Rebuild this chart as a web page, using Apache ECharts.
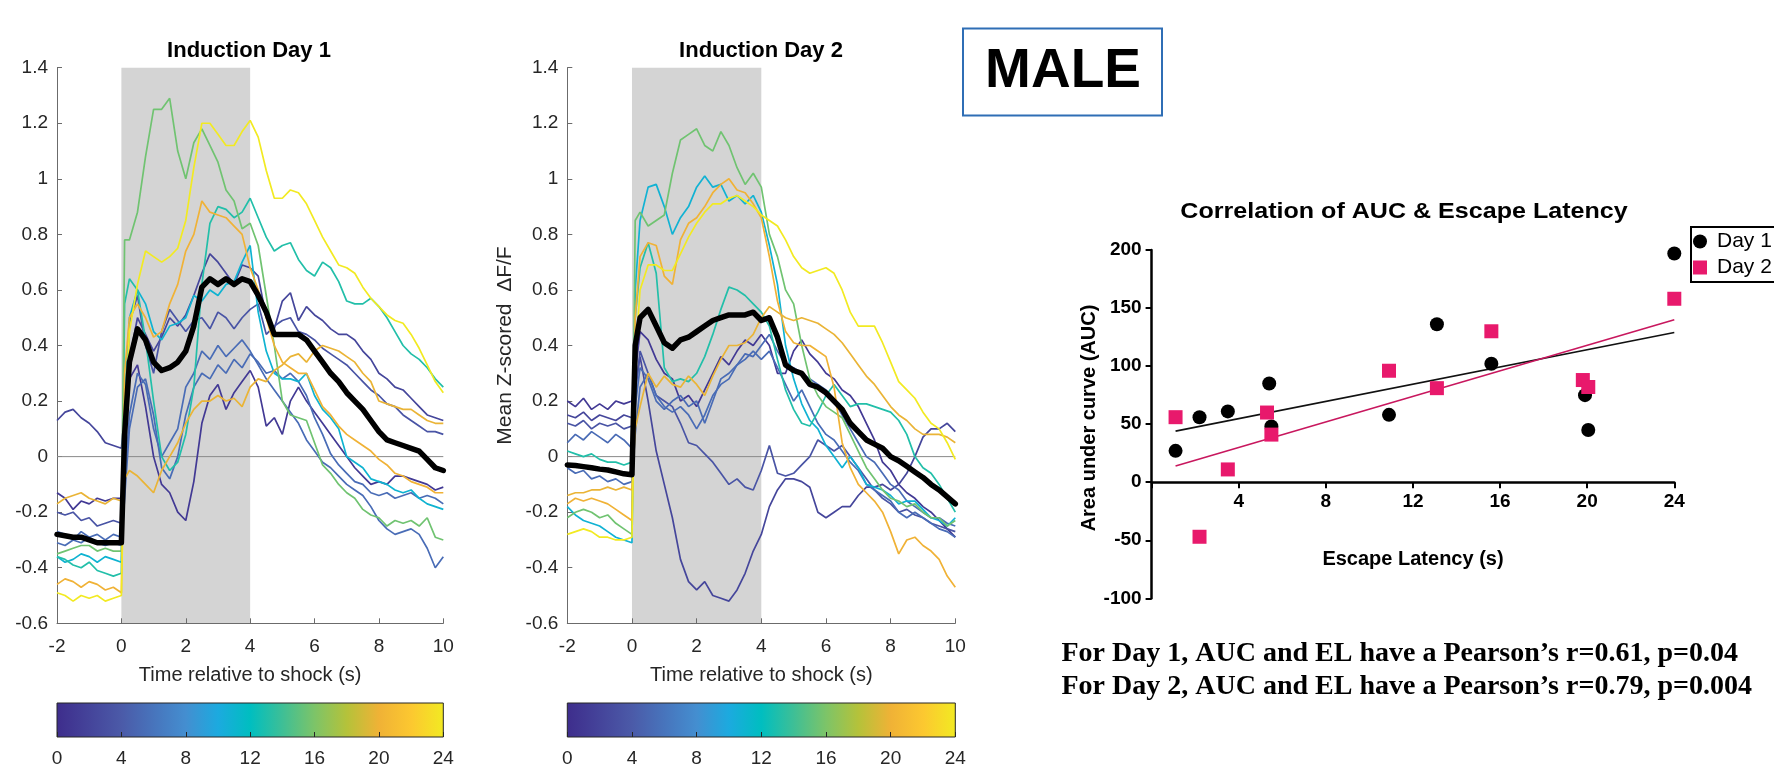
<!DOCTYPE html>
<html>
<head>
<meta charset="utf-8">
<script src="https://cdn.jsdelivr.net/npm/echarts@6/dist/echarts.min.js"></script>
<style>html,body{margin:0;padding:0;background:#fff}#c{width:1774px;height:769px}</style>
</head>
<body>
<div id="c"></div>
<script>
// ---------- DATA ----------
const TIME = [-2,-1.75,-1.5,-1.25,-1,-0.75,-0.5,-0.25,0,0.1,0.25,0.5,0.75,1,1.25,1.5,1.75,2,2.25,2.5,2.75,3,3.25,3.5,3.75,4,4.25,4.5,4.75,5,5.25,5.5,5.75,6,6.25,6.5,6.75,7,7.25,7.5,7.75,8,8.25,8.5,8.75,9,9.25,9.5,9.75,10];

// Induction Day 1 traces (one per mouse, colored by escape latency)
const D1_LAT = [1.1, 2.2, 3.5, 5.4, 5.4, 10.9, 13.1, 15.6, 19.8, 20.0, 24];
const D1_A = [-0.13,-0.15,-0.19,-0.16,-0.17,-0.15,-0.16,-0.15,-0.15,0.02,0.28,0.33,0.18,0.0,-0.1,-0.13,-0.2,-0.23,-0.09,0.12,0.22,0.26,0.17,0.23,0.27,0.31,0.25,0.11,0.14,0.08,0.2,0.25,0.2,0.16,0.12,0.08,0.04,0.0,-0.04,-0.07,-0.1,-0.09,-0.1,-0.07,-0.07,-0.08,-0.09,-0.1,-0.12,-0.11];
const D1_B = [0.13,0.16,0.17,0.14,0.12,0.09,0.05,0.04,0.03,0.15,0.35,0.5,0.44,0.38,0.43,0.5,0.47,0.51,0.58,0.66,0.73,0.7,0.66,0.62,0.69,0.68,0.65,0.5,0.46,0.56,0.59,0.49,0.54,0.51,0.49,0.46,0.44,0.44,0.42,0.38,0.35,0.3,0.28,0.25,0.24,0.21,0.18,0.15,0.14,0.13];
const D1_C = [-0.2,-0.21,-0.2,-0.23,-0.22,-0.25,-0.24,-0.23,-0.24,0.05,0.48,0.58,0.4,0.3,0.45,0.53,0.49,0.45,0.49,0.5,0.46,0.52,0.5,0.46,0.5,0.53,0.55,0.44,0.47,0.49,0.5,0.45,0.44,0.42,0.39,0.37,0.35,0.33,0.3,0.27,0.24,0.22,0.19,0.18,0.15,0.13,0.11,0.09,0.09,0.08];
const D1_D = [-0.27,-0.28,-0.3,-0.27,-0.29,-0.28,-0.3,-0.28,-0.29,-0.1,0.15,0.3,0.26,0.1,0.0,0.05,0.1,0.25,0.3,0.38,0.35,0.4,0.36,0.39,0.42,0.38,0.33,0.28,0.24,0.2,0.16,0.12,0.06,0.02,-0.02,-0.04,-0.07,-0.1,-0.12,-0.14,-0.18,-0.23,-0.26,-0.28,-0.27,-0.26,-0.28,-0.33,-0.4,-0.36];
const D1_E = [-0.31,-0.32,-0.3,-0.31,-0.29,-0.31,-0.32,-0.31,-0.32,-0.15,0.1,0.25,0.28,0.15,-0.04,-0.08,0.0,0.15,0.25,0.3,0.28,0.33,0.3,0.35,0.32,0.37,0.34,0.3,0.31,0.28,0.3,0.27,0.22,0.14,0.08,0.01,-0.03,-0.06,-0.09,-0.1,-0.13,-0.14,-0.13,-0.15,-0.14,-0.13,-0.15,-0.14,-0.15,-0.17];
const D1_F = [-0.36,-0.38,-0.37,-0.35,-0.36,-0.38,-0.36,-0.37,-0.38,0.2,0.5,0.6,0.55,0.45,0.42,0.47,0.48,0.5,0.58,0.56,0.6,0.58,0.62,0.63,0.7,0.76,0.52,0.38,0.3,0.28,0.28,0.27,0.3,0.22,0.17,0.14,0.1,0.0,-0.02,-0.04,-0.08,-0.09,-0.1,-0.12,-0.13,-0.12,-0.15,-0.17,-0.18,-0.19];
const D1_G = [-0.36,-0.37,-0.39,-0.4,-0.38,-0.41,-0.42,-0.43,-0.42,0.55,0.64,0.6,0.42,0.2,0.0,-0.05,-0.02,0.08,0.25,0.62,0.84,0.9,0.89,0.86,0.88,0.93,0.86,0.79,0.74,0.76,0.77,0.71,0.67,0.65,0.7,0.68,0.63,0.56,0.55,0.55,0.57,0.54,0.5,0.45,0.4,0.37,0.35,0.32,0.28,0.25];
const D1_H = [-0.35,-0.34,-0.33,-0.32,-0.32,-0.34,-0.33,-0.34,-0.34,0.78,0.78,0.88,1.08,1.25,1.25,1.29,1.1,1.0,1.13,1.18,1.12,1.06,0.96,0.92,0.82,0.84,0.76,0.58,0.4,0.2,0.15,0.14,0.13,0.05,-0.03,-0.06,-0.1,-0.13,-0.15,-0.19,-0.21,-0.22,-0.25,-0.23,-0.24,-0.23,-0.25,-0.22,-0.29,-0.3];
const D1_I = [-0.17,-0.15,-0.14,-0.13,-0.15,-0.16,-0.17,-0.15,-0.16,-0.08,-0.05,-0.07,-0.1,-0.13,-0.05,0.0,0.05,0.12,0.17,0.2,0.2,0.22,0.2,0.21,0.18,0.25,0.28,0.27,0.31,0.33,0.36,0.37,0.34,0.38,0.4,0.39,0.38,0.36,0.34,0.3,0.27,0.2,0.19,0.18,0.17,0.17,0.15,0.13,0.12,0.12];
const D1_J = [-0.46,-0.44,-0.45,-0.47,-0.45,-0.46,-0.48,-0.47,-0.49,0.3,0.5,0.55,0.5,0.43,0.45,0.55,0.62,0.74,0.8,0.92,0.88,0.87,0.86,0.83,0.8,0.68,0.6,0.5,0.4,0.34,0.32,0.3,0.3,0.24,0.18,0.15,0.11,0.08,0.06,0.04,0.02,-0.01,-0.03,-0.06,-0.07,-0.09,-0.1,-0.11,-0.13,-0.13];
const D1_K = [-0.49,-0.5,-0.52,-0.5,-0.51,-0.5,-0.52,-0.51,-0.5,0.1,0.45,0.62,0.74,0.72,0.7,0.72,0.75,0.85,1.04,1.2,1.2,1.16,1.12,1.12,1.17,1.21,1.15,1.03,0.93,0.93,0.96,0.95,0.91,0.85,0.79,0.74,0.69,0.68,0.66,0.61,0.57,0.54,0.51,0.49,0.48,0.44,0.39,0.33,0.27,0.23];
const D1_MEAN = [-0.28,-0.285,-0.29,-0.29,-0.3,-0.31,-0.31,-0.31,-0.31,0.08,0.34,0.46,0.42,0.34,0.31,0.32,0.34,0.38,0.47,0.61,0.64,0.62,0.64,0.62,0.64,0.63,0.58,0.52,0.44,0.44,0.44,0.44,0.42,0.38,0.34,0.3,0.27,0.23,0.2,0.17,0.13,0.09,0.06,0.05,0.04,0.03,0.02,-0.01,-0.04,-0.05];

// Induction Day 2 traces
const D2_LAT = [1.1, 2.2, 3.5, 5.3, 5.4, 10.8, 13.1, 15.6, 19.8, 20.0, 24];
const D2_A = [0.2,0.18,0.21,0.17,0.19,0.17,0.2,0.19,0.2,0.3,0.45,0.42,0.35,0.3,0.28,0.2,0.22,0.18,0.24,0.3,0.36,0.33,0.38,0.42,0.4,0.44,0.4,0.3,0.3,0.38,0.42,0.37,0.34,0.3,0.28,0.24,0.22,0.18,0.12,0.06,-0.02,-0.05,-0.1,-0.13,-0.15,-0.18,-0.2,-0.23,-0.26,-0.29];
const D2_B = [0.15,0.14,0.16,0.13,0.15,0.14,0.13,0.15,0.14,0.25,0.36,0.2,0.02,-0.1,-0.22,-0.37,-0.45,-0.48,-0.45,-0.5,-0.51,-0.52,-0.48,-0.42,-0.34,-0.28,-0.18,-0.12,-0.08,-0.08,-0.09,-0.11,-0.2,-0.22,-0.2,-0.18,-0.18,-0.14,-0.11,-0.11,-0.1,-0.12,-0.1,-0.06,0.0,0.07,0.1,0.1,0.12,0.09];
const D2_C = [0.12,0.11,0.13,0.1,0.12,0.11,0.12,0.1,0.11,0.22,0.38,0.3,0.22,0.2,0.18,0.12,0.05,0.04,0.01,-0.02,-0.06,-0.1,-0.08,-0.11,-0.12,-0.05,0.04,-0.06,-0.07,-0.06,-0.03,0.0,0.06,0.04,0.02,0.04,0.0,-0.04,-0.08,-0.12,-0.15,-0.17,-0.2,-0.19,-0.21,-0.22,-0.24,-0.25,-0.26,-0.27];
const D2_D = [0.05,0.08,0.06,0.09,0.07,0.05,0.08,0.06,0.03,0.18,0.32,0.28,0.2,0.17,0.2,0.22,0.18,0.2,0.12,0.2,0.28,0.3,0.33,0.37,0.36,0.4,0.44,0.38,0.33,0.32,0.3,0.28,0.26,0.24,0.2,0.15,0.1,0.05,0.0,-0.02,-0.06,-0.1,-0.12,-0.16,-0.18,-0.2,-0.22,-0.22,-0.24,-0.25];
const D2_E = [-0.04,-0.06,-0.05,-0.08,-0.07,-0.09,-0.08,-0.1,-0.09,0.08,0.25,0.3,0.22,0.18,0.16,0.18,0.15,0.1,0.15,0.22,0.26,0.28,0.33,0.35,0.38,0.35,0.38,0.32,0.26,0.2,0.24,0.18,0.12,0.08,0.06,0.02,-0.02,-0.05,-0.1,-0.12,-0.14,-0.16,-0.2,-0.22,-0.2,-0.22,-0.24,-0.26,-0.27,-0.29];
const D2_F = [-0.18,-0.21,-0.23,-0.24,-0.25,-0.27,-0.29,-0.3,-0.31,0.6,0.85,0.97,0.98,0.9,0.8,0.86,0.9,0.97,1.01,0.97,0.98,0.92,0.94,0.91,0.94,0.88,0.76,0.62,0.4,0.28,0.19,0.13,0.1,0.04,0.0,-0.04,0.0,-0.04,-0.1,-0.11,-0.12,-0.14,-0.17,-0.16,-0.16,-0.19,-0.22,-0.23,-0.25,-0.22];
const D2_G = [0.02,0.01,0.0,0.01,-0.01,-0.02,-0.02,-0.03,-0.02,0.5,0.68,0.77,0.66,0.32,0.27,0.28,0.27,0.3,0.36,0.44,0.53,0.61,0.6,0.58,0.55,0.52,0.47,0.35,0.24,0.17,0.12,0.11,0.16,0.22,0.26,0.22,0.18,0.19,0.19,0.18,0.17,0.16,0.13,0.08,0.0,-0.04,-0.06,-0.1,-0.15,-0.2];
const D2_H = [-0.22,-0.2,-0.19,-0.2,-0.22,-0.21,-0.24,-0.26,-0.28,0.85,0.88,0.83,0.85,0.87,1.02,1.14,1.16,1.18,1.12,1.1,1.17,1.12,1.04,0.98,1.02,0.97,0.8,0.72,0.6,0.55,0.4,0.28,0.22,0.18,0.16,0.14,0.08,0.02,-0.04,-0.08,-0.12,-0.15,-0.16,-0.18,-0.17,-0.2,-0.22,-0.22,-0.25,-0.23];
const D2_I = [-0.14,-0.13,-0.13,-0.12,-0.12,-0.11,-0.12,-0.11,-0.12,0.1,0.18,0.3,0.25,0.29,0.26,0.25,0.29,0.26,0.22,0.29,0.35,0.4,0.4,0.41,0.44,0.5,0.54,0.52,0.5,0.49,0.5,0.49,0.48,0.46,0.44,0.41,0.37,0.33,0.29,0.26,0.22,0.18,0.15,0.13,0.1,0.08,0.08,0.08,0.07,0.05];
const D2_J = [-0.17,-0.15,-0.16,-0.15,-0.16,-0.17,-0.19,-0.21,-0.23,0.5,0.72,0.77,0.76,0.65,0.62,0.78,0.84,0.86,0.9,0.95,0.98,1.0,0.96,0.95,0.91,0.86,0.72,0.56,0.45,0.41,0.4,0.4,0.38,0.36,0.25,0.05,-0.04,-0.1,-0.13,-0.16,-0.2,-0.27,-0.35,-0.3,-0.29,-0.32,-0.34,-0.37,-0.43,-0.47];
const D2_K = [-0.28,-0.27,-0.26,-0.27,-0.29,-0.29,-0.3,-0.3,-0.29,0.35,0.6,0.69,0.69,0.67,0.67,0.73,0.79,0.84,0.88,0.91,0.91,0.93,0.94,0.92,0.9,0.87,0.85,0.83,0.78,0.72,0.68,0.66,0.67,0.68,0.66,0.6,0.52,0.47,0.47,0.47,0.41,0.34,0.27,0.24,0.21,0.16,0.12,0.1,0.05,-0.01];
const D2_MEAN = [-0.03,-0.032,-0.036,-0.04,-0.045,-0.048,-0.055,-0.062,-0.065,0.4,0.5,0.53,0.47,0.41,0.39,0.42,0.43,0.45,0.47,0.49,0.5,0.51,0.51,0.51,0.52,0.49,0.5,0.43,0.33,0.31,0.3,0.26,0.25,0.23,0.2,0.17,0.12,0.09,0.06,0.045,0.03,0.0,-0.015,-0.035,-0.055,-0.075,-0.1,-0.12,-0.145,-0.17];

// Correlation scatter
const EL_DAY1  = [1.1, 2.2, 3.5, 5.4, 5.5, 10.9, 13.1, 15.6, 19.9, 20.05, 24];
const AUC_DAY1 = [27, 56, 61, 85, 48, 58, 136, 102, 75, 45, 197];
const EL_DAY2  = [1.1, 2.2, 3.5, 5.3, 5.5, 10.9, 13.1, 15.6, 19.8, 20.05, 24];
const AUC_DAY2 = [56, -47, 11, 60, 41, 96, 81, 130, 88, 82, 158];
const FIT_X    = [1.1, 24];
const FIT_DAY1 = [44, 129];
const FIT_DAY2 = [14, 140];

const CBAR_TICKS = [0, 4, 8, 12, 16, 20, 24];

// ---------- STYLE ----------
const FONT = '"Liberation Sans", Arial, Helvetica, sans-serif';
const SERIF = '"Liberation Serif", "Times New Roman", serif';
const CMAP = [[0,[62,45,140]],[4,[75,90,168]],[8,[68,142,208]],[10,[28,170,223]],[12,[0,190,192]],[14,[62,191,150]],[16,[125,196,104]],[18,[181,194,58]],[20,[240,178,54]],[22,[252,200,48]],[24,[242,234,34]]];
function cmapColor(v){
  for (let i=0;i<CMAP.length-1;i++){
    const a=CMAP[i], b=CMAP[i+1];
    if (v<=b[0]){
      const f=(v-a[0])/(b[0]-a[0]);
      const c=a[1].map((x,k)=>Math.round(x+(b[1][k]-x)*f));
      return 'rgb('+c.join(',')+')';
    }
  }
  return 'rgb('+CMAP[CMAP.length-1][1].join(',')+')';
}
const gradient = new echarts.graphic.LinearGradient(0,0,1,0, CMAP.map(s=>({offset:s[0]/24, color:'rgb('+s[1].join(',')+')'})));

const AX = '#6b6b6b', TXT = '#262626';
function panelX(gi){
  return {gridIndex:gi, type:'value', min:-2, max:10, interval:2, z:2,
    axisLine:{show:true,onZero:false,lineStyle:{color:AX,width:1}},
    axisTick:{show:true,inside:true,length:5,lineStyle:{color:AX}},
    splitLine:{show:false},
    axisLabel:{color:TXT,fontSize:19,margin:14,fontFamily:FONT},
    name:'Time relative to shock (s)', nameLocation:'middle', nameGap:42,
    nameTextStyle:{color:TXT,fontSize:20,fontFamily:FONT}};
}
function panelY(gi, name){
  const o = {gridIndex:gi, type:'value', min:-0.6, max:1.4, interval:0.2, z:2,
    axisLine:{show:true,onZero:false,lineStyle:{color:AX,width:1}},
    axisTick:{show:true,inside:true,length:5,lineStyle:{color:AX}},
    splitLine:{show:false},
    axisLabel:{color:TXT,fontSize:19,margin:9,fontFamily:FONT}};
  if (name){ Object.assign(o,{name:name,nameLocation:'middle',nameGap:52,nameTextStyle:{color:TXT,fontSize:21,fontFamily:FONT}}); }
  return o;
}
function cbarX(gi){
  return {gridIndex:gi, type:'value', min:0, max:24, interval:4, z:10,
    axisLine:{show:false}, axisTick:{show:true,inside:true,length:5,lineStyle:{color:TXT}},
    splitLine:{show:false}, axisLabel:{color:TXT,fontSize:19,margin:12,fontFamily:FONT}};
}
function cbarY(gi){ return {gridIndex:gi, type:'value', min:0, max:1, show:false}; }

const series = [];
function addPanel(ai, traces, lats, mean){
  series.push({type:'line', xAxisIndex:ai, yAxisIndex:ai, data:[[-2,null]], symbol:'none', silent:true, z:1,
    markArea:{silent:true, itemStyle:{color:'#d4d4d4'}, data:[[{coord:[0,-0.6]},{coord:[4,1.4]}]]}});
  series.push({type:'line', xAxisIndex:ai, yAxisIndex:ai, data:[[-2,0],[10,0]], symbol:'none', silent:true, z:2,
    lineStyle:{color:'#8a8a8a',width:1}});
  traces.forEach((vals,k)=>{
    series.push({type:'line', xAxisIndex:ai, yAxisIndex:ai, symbol:'none', silent:true, z:3,
      data: TIME.map((t,i)=>[t, vals[i]]),
      lineStyle:{color:cmapColor(lats[k]), width:1.7}});
  });
  series.push({type:'line', xAxisIndex:ai, yAxisIndex:ai, symbol:'none', silent:true, z:4,
    data: TIME.map((t,i)=>[t, mean[i]]), lineStyle:{color:'#000', width:5.5, join:'round', cap:'round'}});
}
addPanel(0, [D1_A,D1_B,D1_C,D1_D,D1_E,D1_F,D1_G,D1_H,D1_I,D1_J,D1_K], D1_LAT, D1_MEAN);
addPanel(1, [D2_A,D2_B,D2_C,D2_D,D2_E,D2_F,D2_G,D2_H,D2_I,D2_J,D2_K], D2_LAT, D2_MEAN);

[2,3].forEach(ai=>{
  series.push({type:'line', xAxisIndex:ai, yAxisIndex:ai, data:[[0,0.5],[24,0.5]], symbol:'none', silent:true,
    lineStyle:{opacity:0, width:0}, z:1,
    markArea:{silent:true, itemStyle:{color:gradient, borderColor:TXT, borderWidth:1},
      data:[[{coord:[CBAR_TICKS[0],0]},{coord:[CBAR_TICKS[CBAR_TICKS.length-1],1]}]]}});
});

series.push({type:'line', xAxisIndex:4, yAxisIndex:4, symbol:'none', silent:true, z:3,
  data: FIT_X.map((x,i)=>[x, FIT_DAY1[i]]), lineStyle:{color:'#111', width:1.6}});
series.push({type:'line', xAxisIndex:4, yAxisIndex:4, symbol:'none', silent:true, z:3,
  data: FIT_X.map((x,i)=>[x, FIT_DAY2[i]]), lineStyle:{color:'#c8175e', width:1.6}});
series.push({type:'scatter', name:'Day 1', xAxisIndex:4, yAxisIndex:4, symbol:'circle', symbolSize:14, z:5,
  data: EL_DAY1.map((x,i)=>[x, AUC_DAY1[i]]), itemStyle:{color:'#000', opacity:1}});
series.push({type:'scatter', name:'Day 2', xAxisIndex:4, yAxisIndex:4, symbol:'rect', symbolSize:14, z:5,
  data: EL_DAY2.map((x,i)=>[x, AUC_DAY2[i]]), itemStyle:{color:'#e8196c', opacity:1}});

// scatter grid geometry (y = 0 sits 116.6 px above the bottom edge at y = -100)
const SC_TOP = 250, SC_H = 348.3;
const SC_ZERO_OFFSET = -SC_H * (100 / 300);

const option = {
  animation:false,
  backgroundColor:'#fff',
  textStyle:{fontFamily:FONT},
  grid:[
    {left:57, top:67.7, width:386.3, height:555.6, outerBoundsMode:'none'},
    {left:567.3, top:67.7, width:388, height:555.6, outerBoundsMode:'none'},
    {left:57, top:703, width:386.3, height:34, outerBoundsMode:'none'},
    {left:567.3, top:703, width:388, height:34, outerBoundsMode:'none'},
    {left:1151.6, top:SC_TOP, width:522.7, height:SC_H, outerBoundsMode:'none'}
  ],
  xAxis:[panelX(0), panelX(1), cbarX(2), cbarX(3),
    {gridIndex:4, type:'value', min:0, max:24, interval:4, position:'bottom', offset:SC_ZERO_OFFSET,
     axisLine:{show:true,onZero:false,lineStyle:{color:'#000',width:2.5}},
     axisTick:{show:true,inside:false,length:6,lineStyle:{color:'#000',width:2}},
     splitLine:{show:false},
     axisLabel:{color:'#000',fontSize:19,fontWeight:'bold',margin:10,fontFamily:FONT,formatter:v=>v===0?'':String(v)}}],
  yAxis:[panelY(0), panelY(1,'Mean Z-scored  \u0394F/F'), cbarY(2), cbarY(3),
    {gridIndex:4, type:'value', min:-100, max:200, interval:50,
     axisLine:{show:true,onZero:false,lineStyle:{color:'#000',width:2.5}},
     axisTick:{show:true,inside:false,length:6,lineStyle:{color:'#000',width:2}},
     splitLine:{show:false},
     axisLabel:{color:'#000',fontSize:19,fontWeight:'bold',margin:10,fontFamily:FONT}}],
  legend:{show:true, data:[{name:'Day 1',icon:'circle'},{name:'Day 2',icon:'rect'}],
    orient:'vertical', left:1690, top:229, itemWidth:14, itemHeight:14, itemGap:5,
    padding:[2,4,2,3], borderWidth:0, backgroundColor:'transparent',
    textStyle:{fontSize:21,color:'#000',fontFamily:FONT,padding:[0,0,0,5]}},
  series: series,
  graphic:[
    {type:'text', x:249, y:51, style:{text:'Induction Day 1', fontSize:22, fontWeight:'bold', fontFamily:FONT, fill:'#000', align:'center', verticalAlign:'middle'}},
    {type:'text', x:761, y:51, style:{text:'Induction Day 2', fontSize:22, fontWeight:'bold', fontFamily:FONT, fill:'#000', align:'center', verticalAlign:'middle'}},
    {type:'rect', shape:{x:963, y:28.5, width:199, height:87}, style:{fill:'#fff', stroke:'#2f6eb5', lineWidth:2}},
    {type:'text', x:1063, y:72, style:{text:'MALE', fontSize:55, fontWeight:'bold', fontFamily:FONT, fill:'#000', align:'center', verticalAlign:'middle'}},
    {type:'rect', z:-1, shape:{x:1691, y:227, width:200, height:55}, style:{fill:'#fff', stroke:'#000', lineWidth:2}},
    {type:'text', x:1404, y:212, scaleX:1.14, style:{text:'Correlation of AUC & Escape Latency', fontSize:22, fontWeight:'bold', fontFamily:FONT, fill:'#000', align:'center', verticalAlign:'middle'}},
    {type:'text', x:1413, y:559, style:{text:'Escape Latency (s)', fontSize:20, fontWeight:'bold', fontFamily:FONT, fill:'#000', align:'center', verticalAlign:'middle'}},
    {type:'text', x:1089, y:418, rotation:Math.PI/2, style:{text:'Area under curve (AUC)', fontSize:20, fontWeight:'bold', fontFamily:FONT, fill:'#000', align:'center', verticalAlign:'middle'}},
    {type:'text', x:1061.5, y:654, style:{text:'For Day 1, AUC and EL have a Pearson\u2019s r=0.61, p=0.04', fontSize:28, fontWeight:'bold', fontFamily:SERIF, fill:'#000', align:'left', verticalAlign:'middle'}},
    {type:'text', x:1061.5, y:687, style:{text:'For Day 2, AUC and EL have a Pearson\u2019s r=0.79, p=0.004', fontSize:28, fontWeight:'bold', fontFamily:SERIF, fill:'#000', align:'left', verticalAlign:'middle'}}
  ]
};
const chart = echarts.init(document.getElementById('c'), null, {renderer:'canvas', width:1774, height:769});
chart.setOption(option);
</script>
</body>
</html>
